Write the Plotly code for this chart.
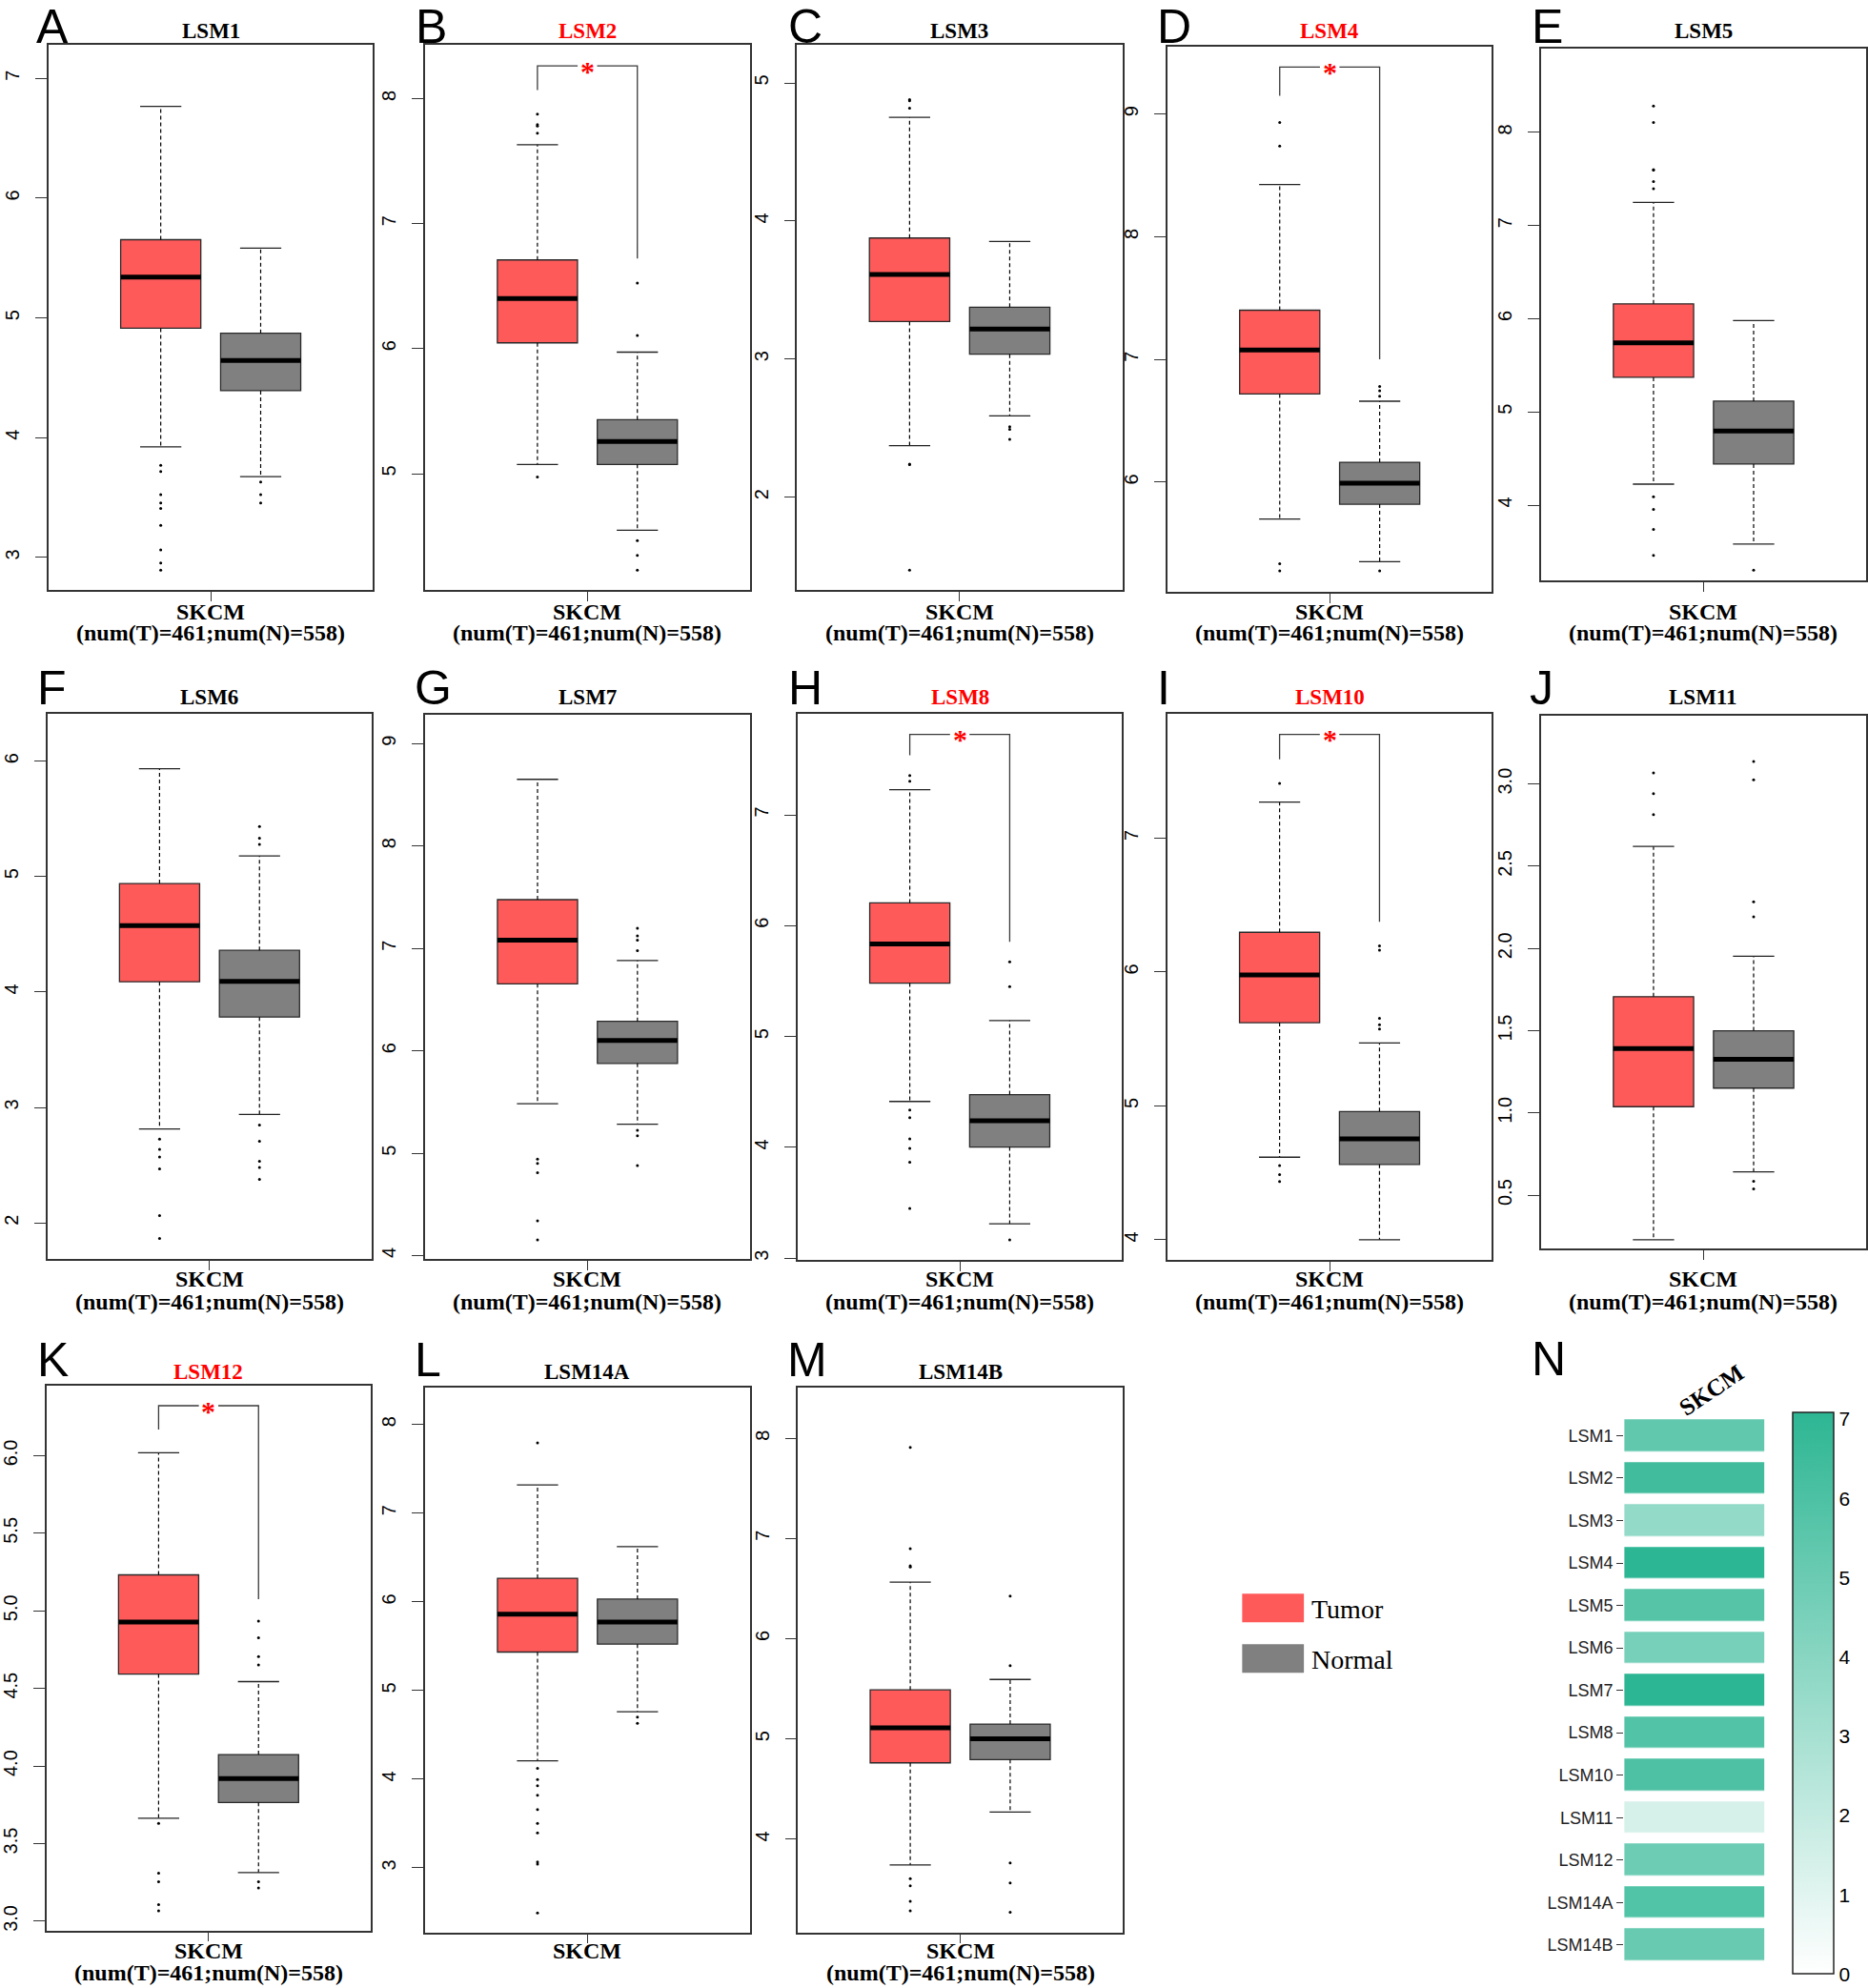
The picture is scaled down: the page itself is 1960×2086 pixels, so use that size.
import plotly.graph_objects as go

W, H = 1960, 2086
SERIF = "Liberation Serif, Times New Roman, serif"
SANS = "Liberation Sans, Arial, Helvetica, sans-serif"

# ---------------- data ----------------
genes = ["LSM1", "LSM2", "LSM3", "LSM4", "LSM5", "LSM6", "LSM7",
         "LSM8", "LSM10", "LSM11", "LSM12", "LSM14A", "LSM14B"]
panel_letters = ["A", "B", "C", "D", "E", "F", "G", "H", "I", "J", "K", "L", "M"]
significant = ["LSM2", "LSM4", "LSM8", "LSM10", "LSM12"]
cancer = "SKCM"
n_tumor = 461
n_normal = 558
show_counts = [True, True, True, True, True, True, True, True, True, True, True, False, True]

tumor_q1 = [4.914, 6.046, 3.272, 6.718, 5.372, 4.088, 6.654, 5.482, 5.622, 1.038, 4.593, 5.434, 4.761]
tumor_median = [5.341, 6.401, 3.612, 7.076, 5.741, 4.575, 7.081, 5.836, 5.979, 1.392, 4.928, 5.862, 5.110]
tumor_q3 = [5.653, 6.709, 3.877, 7.401, 6.160, 4.939, 7.476, 6.205, 6.297, 1.707, 5.232, 6.266, 5.489]
tumor_lower = [3.924, 5.074, 2.373, 5.699, 4.225, 2.814, 5.483, 4.414, 4.617, 0.229, 3.663, 4.208, 3.742]
tumor_upper = [6.766, 7.631, 4.751, 8.426, 7.249, 5.934, 8.651, 7.227, 7.270, 2.620, 6.019, 7.319, 6.565]

normal_q1 = [4.393, 5.074, 3.035, 5.819, 4.441, 3.783, 5.877, 4.003, 4.563, 1.151, 3.765, 5.523, 4.794]
normal_median = [4.645, 5.258, 3.218, 5.990, 4.796, 4.092, 6.101, 4.241, 4.754, 1.327, 3.919, 5.773, 5.002]
normal_q3 = [4.872, 5.432, 3.376, 6.161, 5.116, 4.361, 6.288, 4.476, 4.958, 1.500, 4.074, 6.031, 5.148]
normal_lower = [3.675, 4.547, 2.589, 5.351, 3.582, 2.939, 5.283, 3.311, 4.000, 0.642, 3.314, 4.762, 4.270]
normal_upper = [5.583, 5.972, 3.852, 6.659, 5.980, 5.179, 6.882, 5.144, 5.470, 1.953, 4.544, 6.623, 5.593]

tumor_outliers = [
    [3.770, 3.717, 3.525, 3.455, 3.409, 3.269, 3.063, 2.954, 2.895],
    [7.876, 7.792, 7.780, 7.722, 4.973],
    [4.879, 4.870, 4.818, 2.240, 2.236, 1.472],
    [8.932, 8.740, 5.334, 5.276],
    [8.283, 8.108, 7.600, 7.595, 7.474, 7.397, 4.090, 3.955, 3.739, 3.460],
    [2.726, 2.637, 2.571, 2.468, 2.063, 1.864],
    [4.943, 4.901, 4.810, 4.341, 4.154],
    [7.354, 7.304, 4.337, 4.268, 4.076, 3.991, 3.865, 3.450],
    [7.410, 4.554, 4.487, 4.436],
    [3.067, 2.941, 2.814],
    [3.631, 3.309, 3.255, 3.107, 3.067],
    [7.793, 4.123, 3.996, 3.926, 3.818, 3.658, 3.503, 3.395, 3.066, 3.042, 2.492],
    [7.909, 6.898, 6.728, 6.715, 3.605, 3.534, 3.380, 3.285],
]
normal_outliers = [
    [3.630, 3.525, 3.455],
    [6.525, 6.106, 4.464, 4.346, 4.229],
    [2.510, 2.492, 2.419],
    [6.779, 6.745, 6.700, 5.276],
    [3.303],
    [5.433, 5.333, 5.278, 2.847, 2.707, 2.534, 2.479, 2.376],
    [7.198, 7.123, 7.081, 6.978, 5.225, 5.171, 4.880],
    [5.674, 5.451, 3.165],
    [6.195, 6.163, 5.654, 5.607, 5.575],
    [3.137, 3.026, 2.284, 2.193, 0.585, 0.539],
    [4.934, 4.826, 4.705, 4.652, 3.255, 3.215],
    [4.701, 4.631],
    [6.424, 5.730, 3.763, 3.563, 3.272],
]

y_ticks = [
    [3, 4, 5, 6, 7], [5, 6, 7, 8], [2, 3, 4, 5], [6, 7, 8, 9], [4, 5, 6, 7, 8],
    [2, 3, 4, 5, 6], [4, 5, 6, 7, 8, 9], [3, 4, 5, 6, 7], [4, 5, 6, 7],
    [0.5, 1.0, 1.5, 2.0, 2.5, 3.0], [3.0, 3.5, 4.0, 4.5, 5.0, 5.5, 6.0],
    [3, 4, 5, 6, 7, 8], [4, 5, 6, 7, 8],
]
y_tick_format = ["d", "d", "d", "d", "d", "d", "d", "d", "d", ".1f", ".1f", "d", "d"]

heat_ticks = [0, 1, 2, 3, 4, 5, 6, 7]
legend_labels = ["Tumor", "Normal"]

# ---------------- layout / style (positions in pixels) ----------------
y_ranges = [
    [2.727, 7.276], [4.068, 8.426], [1.326, 5.273], [5.105, 9.547], [3.190, 8.904],
    [1.687, 6.409], [3.967, 9.282], [2.985, 7.911], [3.850, 7.929], [0.177, 3.416],
    [2.941, 6.451], [2.272, 8.414], [3.069, 8.503],
]
frames = [  # left, top, right, bottom
    (45.0, 47.5, 386.7, 619.6), (441.7, 47.5, 783.3, 619.6), (833.3, 47.5, 1175.7, 619.6),
    (1223.3, 49.3, 1565.0, 621.3), (1616.7, 50.6, 1959.0, 609.5),
    (43.8, 749.4, 385.4, 1321.7), (441.8, 750.3, 783.4, 1321.7), (833.8, 749.4, 1175.4, 1322.6),
    (1223.2, 749.4, 1564.8, 1322.6), (1616.7, 751.2, 1959.0, 1310.5),
    (42.8, 1454.7, 384.4, 2026.5), (441.8, 1456.9, 783.4, 2028.7), (834.3, 1456.9, 1175.9, 2028.7),
]
row_of = [0, 0, 0, 0, 0, 1, 1, 1, 1, 1, 2, 2, 2]
title_y = [33, 732, 1440]
letter_y = [28.5, 722, 1428]
skcm_y = [642.5, 1343, 2048.4]
count_y = [664.5, 1366.3, 2070.5]
letter_x = [30, 430, 822, 1210, 1605, 31, 429, 822, 1210, 1603, 31, 429, 821]
brackets = {  # top, left end, right end  (y data units)
    "LSM2": (8.261, 8.067, 6.720),
    "LSM4": (9.383, 9.150, 7.001),
    "LSM8": (7.726, 7.538, 5.855),
    "LSM10": (7.776, 7.589, 6.376),
    "LSM12": (6.322, 6.169, 5.076),
}

TUMOR_COL = "#FF5A5A"
NORMAL_COL = "#808080"
FRAME_COL = "#333333"
POS_T, POS_N = 0.346, 0.654
BOX_W = 0.247
CAP_HALF = 0.0635


def px(x):
    return x / W


def py(y):
    return 1 - y / H


fig = go.Figure()
annotations = []


def ann(text, x, y, size, color="black", family=SERIF, weight="normal",
        xanchor="center", yanchor="middle", angle=0, xref="paper", yref="paper", yshift=0):
    annotations.append(dict(
        text=text, x=x, y=y, xref=xref, yref=yref, showarrow=False,
        xanchor=xanchor, yanchor=yanchor, textangle=angle, yshift=yshift,
        font=dict(size=size, color=color, family=family, weight=weight)))


layout_axes = {}
for i, g in enumerate(genes):
    k = i + 1
    xa = "x" if k == 1 else f"x{k}"
    ya = "y" if k == 1 else f"y{k}"
    l, t, r, b = frames[i]
    layout_axes["xaxis" if k == 1 else f"xaxis{k}"] = dict(
        domain=[px(l), px(r)], range=[0, 1], anchor=ya, tickvals=[0.5], ticktext=[""],
        ticks="outside", ticklen=10, tickwidth=1.3, tickcolor=FRAME_COL,
        showline=True, linecolor=FRAME_COL, linewidth=1.5, mirror=True,
        showgrid=False, zeroline=False, fixedrange=True)
    layout_axes["yaxis" if k == 1 else f"yaxis{k}"] = dict(
        domain=[py(b), py(t)], range=y_ranges[i], anchor=xa,
        tickvals=y_ticks[i], tickformat=y_tick_format[i], tickangle=-90,
        ticks="outside", ticklen=12, tickwidth=1.3, tickcolor=FRAME_COL,
        tickfont=dict(size=20, family=SANS, color="black"), ticklabelstandoff=9,
        showline=True, linecolor=FRAME_COL, linewidth=1.5, mirror=True,
        showgrid=False, zeroline=False, fixedrange=True)

    groups = [
        (POS_T, tumor_q1[i], tumor_median[i], tumor_q3[i], tumor_lower[i], tumor_upper[i],
         TUMOR_COL, tumor_outliers[i]),
        (POS_N, normal_q1[i], normal_median[i], normal_q3[i], normal_lower[i], normal_upper[i],
         NORMAL_COL, normal_outliers[i]),
    ]
    for pos, q1, med, q3, lo, hi, col, outs in groups:
        fig.add_trace(go.Box(
            x=[pos], q1=[q1], median=[med], q3=[q3], lowerfence=[q1], upperfence=[q3],
            orientation="v", width=BOX_W, fillcolor=col, whiskerwidth=0,
            line=dict(color="#2a2a2a", width=1.3), boxpoints=False,
            xaxis=xa, yaxis=ya, hoverinfo="skip", showlegend=False))
        # dashed whiskers
        fig.add_trace(go.Scatter(
            x=[pos, pos, None, pos, pos], y=[q3, hi, None, q1, lo], mode="lines",
            line=dict(color="black", width=1.2, dash="4px,3px"),
            xaxis=xa, yaxis=ya, hoverinfo="skip", showlegend=False))
        # staples
        fig.add_trace(go.Scatter(
            x=[pos - CAP_HALF, pos + CAP_HALF, None, pos - CAP_HALF, pos + CAP_HALF],
            y=[hi, hi, None, lo, lo], mode="lines",
            line=dict(color="#222222", width=1.3),
            xaxis=xa, yaxis=ya, hoverinfo="skip", showlegend=False))
        # median
        fig.add_trace(go.Scatter(
            x=[pos - BOX_W / 2, pos + BOX_W / 2], y=[med, med], mode="lines",
            line=dict(color="black", width=5),
            xaxis=xa, yaxis=ya, hoverinfo="skip", showlegend=False))
        # outlying points
        fig.add_trace(go.Scatter(
            x=[pos] * len(outs), y=outs, mode="markers",
            marker=dict(color="black", size=3),
            xaxis=xa, yaxis=ya, hoverinfo="skip", showlegend=False))

    if g in brackets:
        top, left_end, right_end = brackets[g]
        gap = 0.03
        fig.add_trace(go.Scatter(
            x=[POS_T, POS_T, 0.5 - gap, None, 0.5 + gap, POS_N, POS_N],
            y=[left_end, top, top, None, top, top, right_end], mode="lines",
            line=dict(color="#3a3a3a", width=1.3),
            xaxis=xa, yaxis=ya, hoverinfo="skip", showlegend=False))
        ann("*", 0.5, top, 30, color="#FF0000", weight="bold", xref=xa, yref=ya, yshift=-5)

    row = row_of[i]
    cx = (l + r) / 2
    ann(g, px(cx), py(title_y[row]), 23, color="#FF0000" if g in significant else "black",
        weight="bold")
    ann(panel_letters[i], px(letter_x[i]), py(letter_y[row]), 50, family=SANS, xanchor="left")
    ann(cancer, px(cx), py(skcm_y[row]), 24, weight="bold")
    if show_counts[i]:
        ann(f"(num(T)={n_tumor};num(N)={n_normal})", px(cx), py(count_y[row]), 24, weight="bold")

# ---------------- legend ----------------
shapes = []
for j, (lab, col) in enumerate(zip(legend_labels, [TUMOR_COL, NORMAL_COL])):
    y0 = 1673 + j * 53
    shapes.append(dict(type="rect", xref="paper", yref="paper",
                       x0=px(1302), x1=px(1367), y0=py(y0 + 30), y1=py(y0),
                       fillcolor=col, line=dict(width=0)))
    ann(lab, px(1373), py(y0 + 16), 28, xanchor="left")

# ---------------- heatmap N ----------------
fig.add_trace(go.Heatmap(
    z=[[v] for v in tumor_median], x=[cancer], y=genes,
    colorscale=[[0, "#FFFFFF"], [1, "#2DB693"]], zmin=0, zmax=max(tumor_median),
    ygap=11.4, xgap=0, xaxis="x14", yaxis="y14", hoverinfo="skip",
    colorbar=dict(
        x=px(1881.7), xanchor="left", xpad=0, ypad=0,
        y=py(1777.75), yanchor="middle", len=589.5 / H, lenmode="fraction",
        thickness=43, thicknessmode="pixels", outlinecolor="#222222", outlinewidth=1.5,
        tickvals=heat_ticks, ticks="", tickfont=dict(size=21, family=SANS, color="black"))))
layout_axes["xaxis14"] = dict(domain=[px(1704.3), px(1852.3)], anchor="y14",
                              showticklabels=False, ticks="", showline=False,
                              showgrid=False, zeroline=False, fixedrange=True)
layout_axes["yaxis14"] = dict(domain=[py(2064.1), py(1484.9)], anchor="x14", type="category",
                              autorange="reversed", ticks="outside", ticklen=7, tickwidth=1.3,
                              tickcolor="#333333", tickfont=dict(size=18, family=SANS, color="#222222"),
                              showline=False, showgrid=False, zeroline=False, fixedrange=True)
ann(cancer, px(1796), py(1459), 25, weight="bold", angle=-34)
ann("N", px(1605), py(1427), 50, family=SANS, xanchor="left")

fig.update_layout(
    width=W, height=H, autosize=False,
    margin=dict(l=0, r=0, t=0, b=0),
    paper_bgcolor="white", plot_bgcolor="white",
    boxmode="overlay", showlegend=False,
    annotations=annotations, shapes=shapes,
    **layout_axes)

fig.write_html("out.html",
               config={"displayModeBar": False},
               post_script="document.body.style.margin='0';document.body.style.padding='0';")
